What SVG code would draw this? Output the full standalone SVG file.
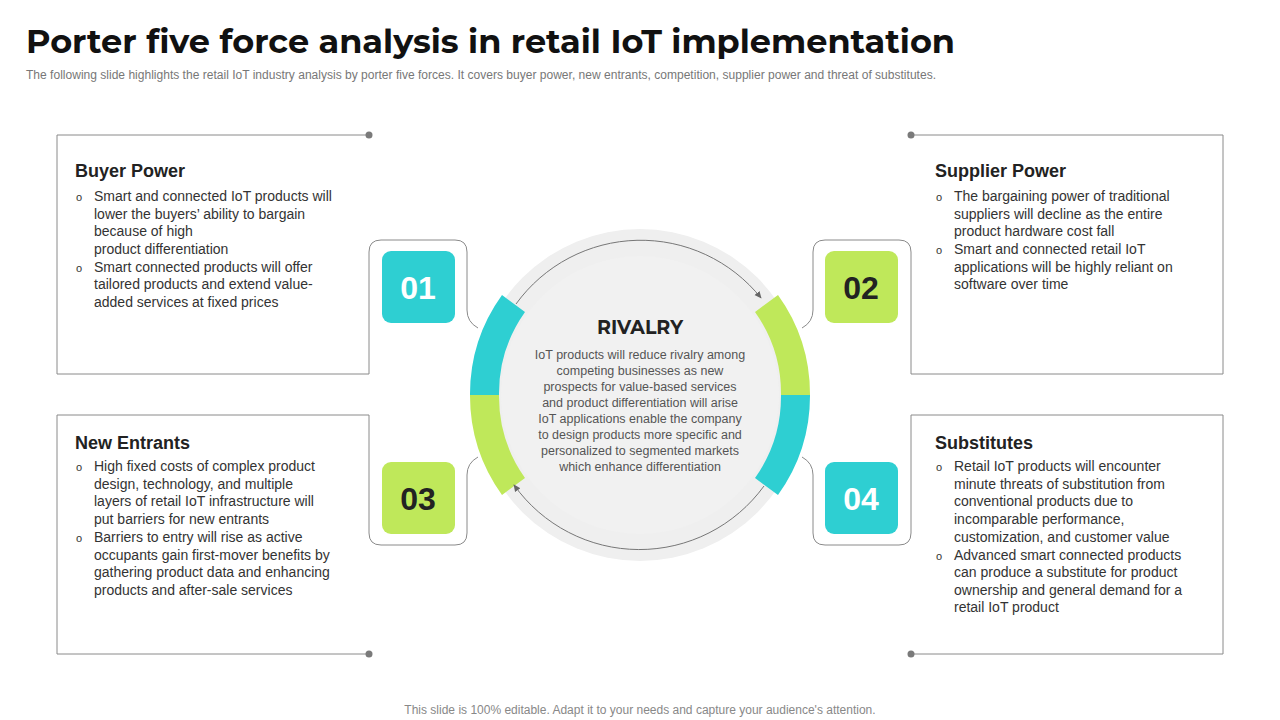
<svg xmlns="http://www.w3.org/2000/svg" width="1280" height="720" viewBox="0 0 1280 720">
<defs>
<style>
.t{font-family:"Liberation Sans",Arial,sans-serif}
.box{fill:none;stroke:#8a8a8a;stroke-width:1}
.h{font-family:"Liberation Sans",Arial,sans-serif;font-size:18px;font-weight:bold;fill:#222}
.b{font-family:"Liberation Sans",Arial,sans-serif;font-size:14px;fill:#333}
.o{font-size:11px}
.num{font-family:"Liberation Sans",Arial,sans-serif;font-size:32px;font-weight:bold;text-anchor:middle}
.dot{fill:#7a7a7a}
</style>
<marker id="ah" viewBox="0 0 10 10" refX="8" refY="5" markerWidth="8" markerHeight="8" orient="auto"><path d="M0,1 L9,5 L0,9 z" fill="#666"/></marker>
</defs>
<rect width="1280" height="720" fill="#fff"/>
<text x="26" y="53" font-family="Montserrat,'Noto Sans',sans-serif" font-size="33" font-weight="bold" fill="#111" textLength="929" lengthAdjust="spacingAndGlyphs">Porter five force analysis in retail IoT implementation</text>
<text x="26" y="79" class="t" font-size="12" fill="#777" textLength="910" lengthAdjust="spacingAndGlyphs">The following slide highlights the retail IoT industry analysis by porter five forces. It covers buyer power, new entrants, competition, supplier power and threat of substitutes.</text>

<g id="center">
<circle cx="640" cy="395" r="166" fill="#efefef"/>
<circle cx="640" cy="395" r="139" fill="#f1f1f1"/>
<path d="M470,395 A170,170 0 0 1 502,295 L525,312 A141,141 0 0 0 499,395 Z" fill="#2ecfd2"/>
<path d="M470,395 A170,170 0 0 0 502,495 L525,478 A141,141 0 0 1 499,395 Z" fill="#bfe85a"/>
<path d="M810,395 A170,170 0 0 0 778,295 L755,312 A141,141 0 0 1 781,395 Z" fill="#bfe85a"/>
<path d="M810,395 A170,170 0 0 1 778,495 L755,478 A141,141 0 0 0 781,395 Z" fill="#2ecfd2"/>
<text x="640" y="334" text-anchor="middle" font-family="Montserrat,'Noto Sans',sans-serif" font-size="19" font-weight="bold" fill="#222">RIVALRY</text>
<g class="t" font-size="12.5" fill="#555" text-anchor="middle">
<text x="640" y="359">IoT products will reduce rivalry among</text>
<text x="640" y="375">competing businesses as new</text>
<text x="640" y="391">prospects for value-based  services</text>
<text x="640" y="407">and product differentiation  will arise</text>
<text x="640" y="423">IoT applications enable the company</text>
<text x="640" y="439">to design products more specific and</text>
<text x="640" y="455">personalized to segmented markets</text>
<text x="640" y="471">which enhance differentiation</text>
</g>
</g>

<g id="connectors" fill="none" stroke="#777" stroke-width="1">
<path d="M516,304 A154,154 0 0 1 761,298" marker-end="url(#ah)"/>
<path d="M764,486 A154,154 0 0 1 514,485" marker-end="url(#ah)"/>
</g>

<g id="buyer">
<path class="box" d="M369,135 H57 V374 H369 V325"/>
<path class="box" d="M369,325 V252 Q369,240 381,240 H455 Q467,240 467,252 V310 Q467,322 478,328"/>
<circle class="dot" cx="369" cy="135" r="3.5"/>
<rect x="382" y="251" width="73" height="72" rx="9" fill="#2ecfd2"/>
<text x="418" y="299" class="num" fill="#fff">01</text>
<text x="75" y="177" class="h">Buyer Power</text>
<g class="b"><text x="76" y="201" class="o">o</text><text x="94" y="201">Smart and connected IoT products will</text><text x="94" y="219">lower the buyers’ ability to bargain</text><text x="94" y="236">because of high</text><text x="94" y="254">product differentiation</text><text x="76" y="272" class="o">o</text><text x="94" y="272">Smart connected products will offer</text><text x="94" y="289">tailored products and extend value-</text><text x="94" y="307">added services at fixed prices</text></g>
</g>

<g id="entrants">
<path class="box" d="M369,654 H57 V415 H369 V460"/>
<path class="box" d="M369,460 V533 Q369,545 381,545 H455 Q467,545 467,533 V475 Q467,463 478,457"/>
<circle class="dot" cx="369" cy="654" r="3.5"/>
<rect x="382" y="462" width="73" height="72" rx="9" fill="#bfe85a"/>
<text x="418" y="510" class="num" fill="#222">03</text>
<text x="75" y="449" class="h">New Entrants</text>
<g class="b"><text x="76" y="471" class="o">o</text><text x="94" y="471">High fixed costs of complex product</text><text x="94" y="489">design, technology, and multiple</text><text x="94" y="506">layers of retail IoT infrastructure will</text><text x="94" y="524">put barriers for new entrants</text><text x="76" y="542" class="o">o</text><text x="94" y="542">Barriers to entry will rise as active</text><text x="94" y="560">occupants gain first-mover benefits by</text><text x="94" y="577">gathering product data and enhancing</text><text x="94" y="595">products and after-sale services</text></g>
</g>

<g id="supplier">
<path class="box" d="M911,135 H1223 V374 H911 V325"/>
<path class="box" d="M911,325 V252 Q911,240 899,240 H825 Q813,240 813,252 V310 Q813,322 802,328"/>
<circle class="dot" cx="911" cy="135" r="3.5"/>
<rect x="825" y="251" width="73" height="72" rx="9" fill="#bfe85a"/>
<text x="861" y="299" class="num" fill="#222">02</text>
<text x="935" y="177" class="h">Supplier Power</text>
<g class="b"><text x="936" y="201" class="o">o</text><text x="954" y="201">The bargaining power of traditional</text><text x="954" y="219">suppliers will decline as the entire</text><text x="954" y="236">product hardware cost fall</text><text x="936" y="254" class="o">o</text><text x="954" y="254">Smart and connected retail IoT</text><text x="954" y="272">applications will be highly reliant on</text><text x="954" y="289">software over time</text></g>
</g>

<g id="substitutes">
<path class="box" d="M911,654 H1223 V415 H911 V460"/>
<path class="box" d="M911,460 V533 Q911,545 899,545 H825 Q813,545 813,533 V475 Q813,463 802,457"/>
<circle class="dot" cx="911" cy="654" r="3.5"/>
<rect x="825" y="462" width="73" height="72" rx="9" fill="#2ecfd2"/>
<text x="861" y="510" class="num" fill="#fff">04</text>
<text x="935" y="449" class="h">Substitutes</text>
<g class="b"><text x="936" y="471" class="o">o</text><text x="954" y="471">Retail IoT products will encounter</text><text x="954" y="489">minute threats of substitution from</text><text x="954" y="506">conventional products due to</text><text x="954" y="524">incomparable performance,</text><text x="954" y="542">customization, and customer value</text><text x="936" y="560" class="o">o</text><text x="954" y="560">Advanced smart connected products</text><text x="954" y="577">can produce a substitute for product</text><text x="954" y="595">ownership and general demand for a</text><text x="954" y="612">retail IoT product</text></g>
</g>

<text x="640" y="714" text-anchor="middle" class="t" font-size="12" fill="#888">This slide is 100% editable. Adapt it to your needs and capture your audience's attention.</text>
</svg>
